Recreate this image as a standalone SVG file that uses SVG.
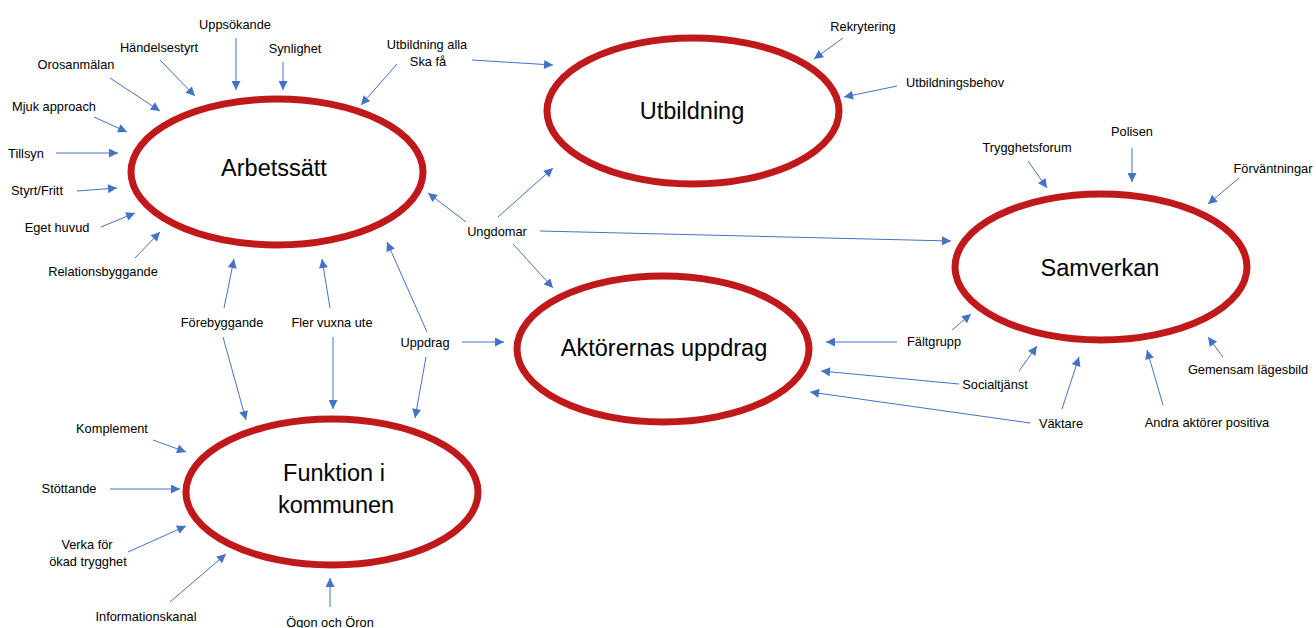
<svg xmlns="http://www.w3.org/2000/svg" width="1316" height="628" viewBox="0 0 1316 628">
<style>
.node ellipse{fill:#fff;stroke:#C0191B;stroke-width:7}
.big{font-family:"Liberation Sans",Arial,sans-serif;font-size:23.5px;fill:#000;text-anchor:middle}
.lbl{font-family:"Liberation Sans",Arial,sans-serif;font-size:12.8px;fill:#000;text-anchor:middle}
#connectors line{stroke:#4472C4;stroke-width:1;marker-end:url(#ah)}
</style>
<defs>
<marker id="ah" viewBox="0 0 10 10" refX="10" refY="5" markerWidth="10" markerHeight="9" markerUnits="userSpaceOnUse" orient="auto">
<path d="M0,0 L10,5 L0,10 z" fill="#4472C4"/>
</marker>
</defs>
<rect width="1316" height="628" fill="#fff"/>
<g id="connectors">
<line x1="236" y1="38" x2="236" y2="90"/>
<line x1="160" y1="60" x2="195" y2="96"/>
<line x1="283" y1="62" x2="283" y2="90"/>
<line x1="397" y1="64" x2="361" y2="105"/>
<line x1="110" y1="78" x2="160" y2="111"/>
<line x1="94" y1="117" x2="127" y2="132"/>
<line x1="56" y1="153" x2="118" y2="153"/>
<line x1="77" y1="191" x2="117" y2="188"/>
<line x1="101" y1="227" x2="135" y2="213"/>
<line x1="135" y1="258" x2="160" y2="232"/>
<line x1="224" y1="308" x2="234" y2="259"/>
<line x1="330" y1="308" x2="322" y2="259"/>
<line x1="427" y1="332" x2="387" y2="242"/>
<line x1="466" y1="222" x2="428" y2="193"/>
<line x1="472" y1="60" x2="553" y2="65"/>
<line x1="498" y1="217" x2="553" y2="168"/>
<line x1="843" y1="38" x2="814" y2="59"/>
<line x1="897" y1="86" x2="844" y2="97"/>
<line x1="540" y1="231" x2="951" y2="241"/>
<line x1="513" y1="244" x2="553" y2="288"/>
<line x1="1028" y1="161" x2="1047" y2="188"/>
<line x1="1132" y1="148" x2="1132" y2="182"/>
<line x1="1239" y1="178" x2="1208" y2="204"/>
<line x1="952" y1="330" x2="971" y2="314"/>
<line x1="1019" y1="371" x2="1037" y2="346"/>
<line x1="1062" y1="409" x2="1079" y2="357"/>
<line x1="1163" y1="405" x2="1147" y2="350"/>
<line x1="1223" y1="357" x2="1208" y2="337"/>
<line x1="462" y1="342" x2="504" y2="342"/>
<line x1="897" y1="342" x2="826" y2="342"/>
<line x1="959" y1="384" x2="821" y2="371"/>
<line x1="1030" y1="423" x2="810" y2="392"/>
<line x1="223" y1="337" x2="246" y2="420"/>
<line x1="333" y1="337" x2="333" y2="409"/>
<line x1="426" y1="357" x2="415" y2="418"/>
<line x1="153" y1="440" x2="186" y2="452"/>
<line x1="110" y1="489" x2="180" y2="489"/>
<line x1="128" y1="552" x2="186" y2="526"/>
<line x1="170" y1="602" x2="226" y2="554"/>
<line x1="330" y1="607" x2="330" y2="578"/>
</g>
<g id="n-arbetssatt" class="node"><ellipse cx="277" cy="172" rx="146" ry="73"/><text class="big" x="274" y="176">Arbetssätt</text></g>
<g id="n-utbildning" class="node"><ellipse cx="693" cy="111" rx="146" ry="73"/><text class="big" x="692" y="119">Utbildning</text></g>
<g id="n-samverkan" class="node"><ellipse cx="1101" cy="267" rx="146" ry="73"/><text class="big" x="1100" y="276">Samverkan</text></g>
<g id="n-aktorernas" class="node"><ellipse cx="663" cy="349" rx="146" ry="73"/><text class="big" x="664" y="356">Aktörernas uppdrag</text></g>
<g id="n-funktion" class="node"><ellipse cx="332" cy="492" rx="146" ry="73"/><text class="big" x="334" y="481">Funktion i</text><text class="big" x="336" y="513">kommunen</text></g>
<g id="l-uppsokande"><text class="lbl" x="235" y="29">Uppsökande</text></g>
<g id="l-handelsestyrt"><text class="lbl" x="159" y="52">Händelsestyrt</text></g>
<g id="l-synlighet"><text class="lbl" x="295" y="53">Synlighet</text></g>
<g id="l-utbildningalla"><text class="lbl" x="427" y="49">Utbildning alla</text><text class="lbl" x="428" y="66">Ska få</text></g>
<g id="l-orosanmalan"><text class="lbl" x="76" y="69">Orosanmälan</text></g>
<g id="l-mjuk"><text class="lbl" x="54" y="111">Mjuk approach</text></g>
<g id="l-tillsyn"><text class="lbl" x="26" y="158">Tillsyn</text></g>
<g id="l-styrt"><text class="lbl" x="37" y="195">Styrt/Fritt</text></g>
<g id="l-eget"><text class="lbl" x="57" y="232">Eget huvud</text></g>
<g id="l-relation"><text class="lbl" x="103" y="276">Relationsbyggande</text></g>
<g id="l-ungdomar"><text class="lbl" x="497" y="236">Ungdomar</text></g>
<g id="l-rekrytering"><text class="lbl" x="863" y="31">Rekrytering</text></g>
<g id="l-utbbehov"><text class="lbl" x="955" y="87">Utbildningsbehov</text></g>
<g id="l-trygghetsforum"><text class="lbl" x="1027" y="152">Trygghetsforum</text></g>
<g id="l-polisen"><text class="lbl" x="1132" y="136">Polisen</text></g>
<g id="l-forvantningar"><text class="lbl" x="1273" y="173">Förväntningar</text></g>
<g id="l-faltgrupp"><text class="lbl" x="934" y="346">Fältgrupp</text></g>
<g id="l-socialtjanst"><text class="lbl" x="995" y="389">Socialtjänst</text></g>
<g id="l-vaktare"><text class="lbl" x="1061" y="428">Väktare</text></g>
<g id="l-andra"><text class="lbl" x="1207" y="427">Andra aktörer positiva</text></g>
<g id="l-gemensam"><text class="lbl" x="1248" y="374">Gemensam lägesbild</text></g>
<g id="l-forebyggande"><text class="lbl" x="222" y="327">Förebyggande</text></g>
<g id="l-fler"><text class="lbl" x="332" y="327">Fler vuxna ute</text></g>
<g id="l-uppdrag"><text class="lbl" x="425" y="347">Uppdrag</text></g>
<g id="l-komplement"><text class="lbl" x="112" y="433">Komplement</text></g>
<g id="l-stottande"><text class="lbl" x="69" y="493">Stöttande</text></g>
<g id="l-verka"><text class="lbl" x="87" y="549">Verka för</text><text class="lbl" x="88" y="566">ökad trygghet</text></g>
<g id="l-info"><text class="lbl" x="146" y="621">Informationskanal</text></g>
<g id="l-ogon"><text class="lbl" x="330" y="627">Ögon och Öron</text></g>
</svg>
